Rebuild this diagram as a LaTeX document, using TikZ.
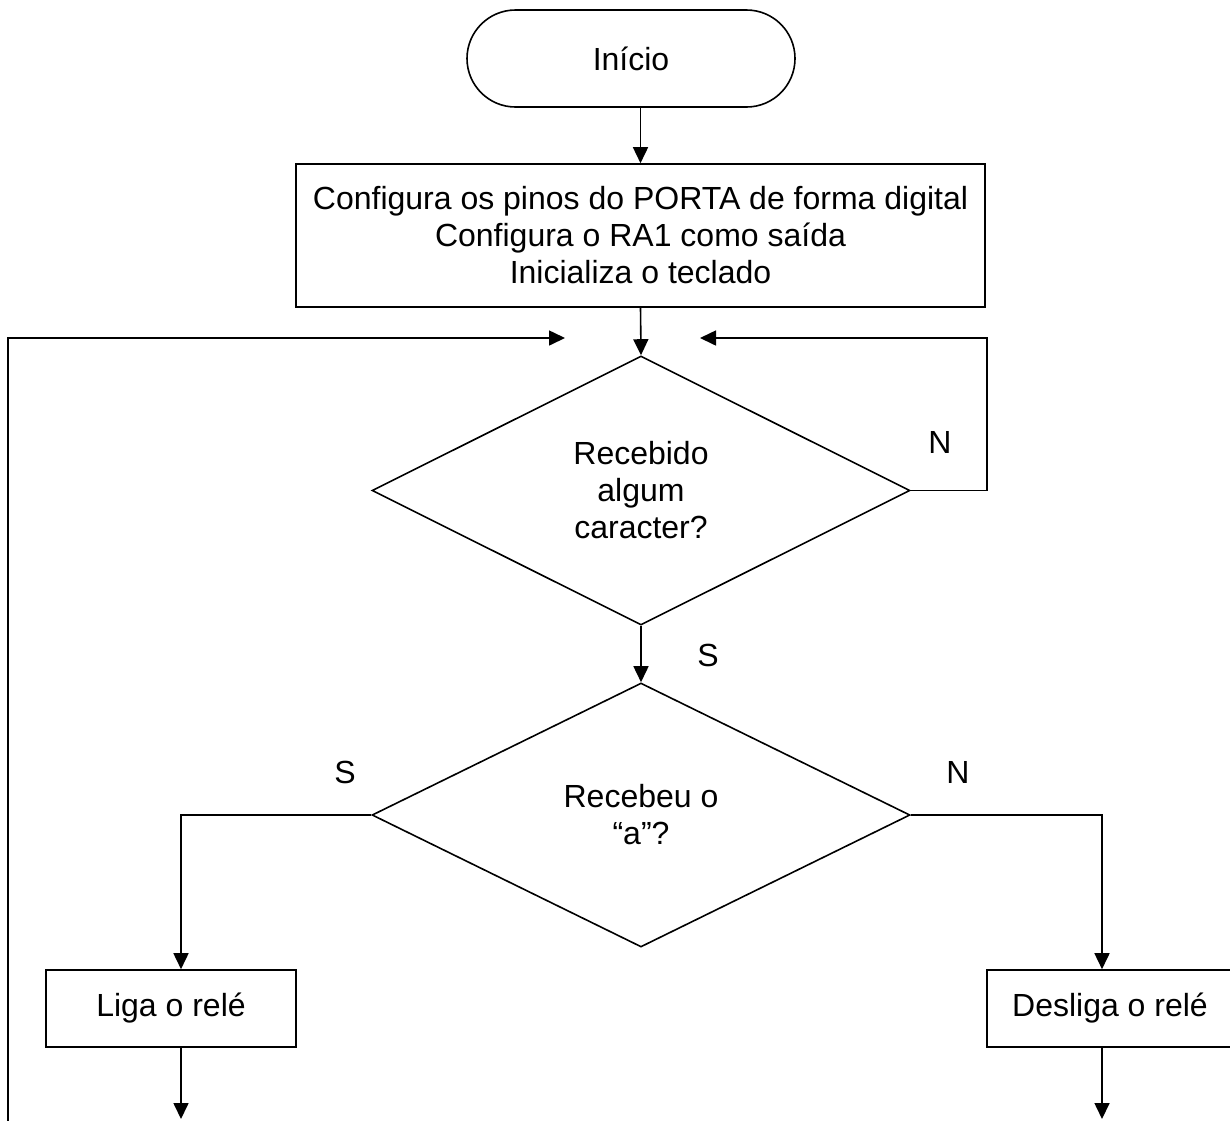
\documentclass[tikz,border=0pt]{standalone}
\usepackage{fontspec}
\setmainfont{Liberation Sans}
\usetikzlibrary{shapes.geometric,shapes.misc,arrows.meta}
\begin{document}
\begin{tikzpicture}[x=0.5pt,y=-0.5pt,line width=0.8pt]
  \tikzstyle{every node}=[font=\fontsize{16}{18.5}\selectfont,align=center,inner sep=0pt]
  \tikzstyle{bloco}=[draw,rectangle]
  \tikzstyle{decisao}=[draw,diamond,minimum width=269pt]
  \tikzstyle{seta}=[-{Triangle[length=8pt,width=7.5pt]}]
  \useasboundingbox (0,0) rectangle (1230,1120);
  % blocos
  \node [draw,rounded rectangle,minimum width=164pt,minimum height=48.5pt] (inicio) at (631,58.5) {Início};
  \node [bloco,minimum width=344.5pt,minimum height=71.5pt] (cfg) at (640.5,235.5)
    {Configura os pinos do PORTA de forma digital\\Configura o RA1 como saída\\Inicializa o teclado};
  \node [decisao,minimum height=134.5pt] (rec) at (641,490.5) {Recebido\\algum\\caracter?};
  \node [decisao,minimum height=132pt] (car) at (641,815) {Recebeu o\\“a”?};
  \node [bloco,minimum width=125pt,minimum height=38.5pt] (liga) at (171,1008.5) {Liga o relé};
  \node [bloco,minimum width=123pt,minimum height=38.5pt] (desl) at (1110,1008.5) {Desliga o relé};
  % pontos livres
  \coordinate (retesq) at (565,338);
  \coordinate (retdir) at (700,338);
  \coordinate (cantodir) at (987,338);
  \coordinate (cantoesq) at (8,338);
  \coordinate (fundoesq) at (8,1122);
  \coordinate (saidaliga) at (181,1119);
  \coordinate (saidadesl) at (1102,1119);
  % ligacoes
  \draw [seta] (inicio.south -| cfg.north) -- (cfg.north);
  \draw [seta] (cfg.south) -- (rec.north);
  \draw [seta] (rec.east) -| (cantodir) -- (retdir);
  \draw [seta] (fundoesq) -- (cantoesq) -- (retesq);
  \draw [seta] (rec.south) -- (car.north);
  \draw [seta] (car.west) -| ([xshift=5pt]liga.north);
  \draw [seta] (car.east) -| ([xshift=-4pt]desl.north);
  \draw [seta] ([xshift=5pt]liga.south) -- (saidaliga);
  \draw [seta] ([xshift=-4pt]desl.south) -- (saidadesl);
  % rotulos
  \node at (940,442) {N};
  \node at (708,655) {S};
  \node at (345,772) {S};
  \node at (958,772) {N};
\end{tikzpicture}
\end{document}
